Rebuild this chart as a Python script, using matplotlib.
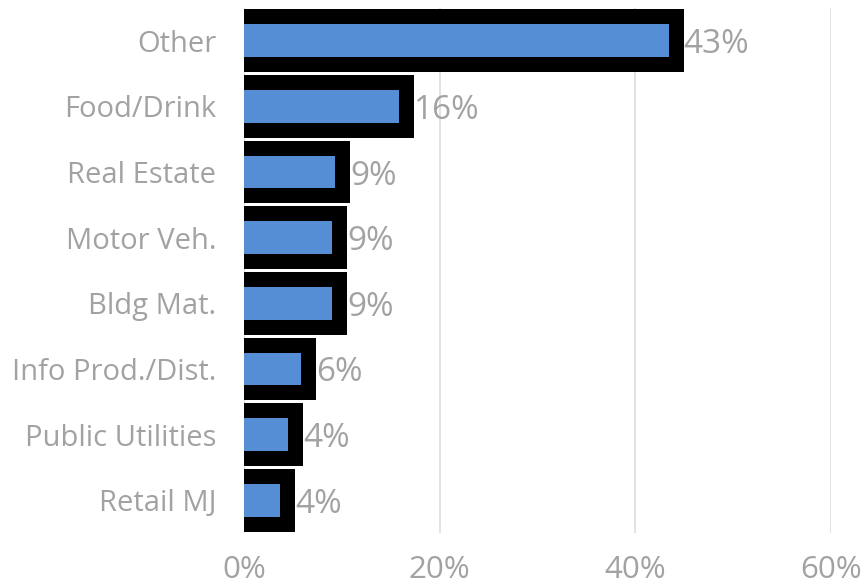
import matplotlib

matplotlib.use("Agg")
import matplotlib.pyplot as plt

# category shares, top to bottom as in the reference
categories = ["Other", "Food/Drink", "Real Estate", "Motor Veh.", "Bldg Mat.",
              "Info Prod./Dist.", "Public Utilities", "Retail MJ"]
shares = [43.4, 15.8, 9.3, 9.0, 9.0, 5.8, 4.5, 3.7]
value_labels = ["43%", "16%", "9%", "9%", "9%", "6%", "4%", "4%"]
xticks = [0, 20, 40, 60]
xtick_labels = ["0%", "20%", "40%", "60%"]

BLUE = "#558ED5"
GRAY = "#A2A2A2"
DPI = 100
EDGE_PX = 30

plt.rcParams["font.family"] = ["Open Sans", "DejaVu Sans"]

fig = plt.figure(figsize=(8.64, 5.84), dpi=DPI)
ax = fig.add_axes([244 / 864, 1 - 533 / 584, (831 - 244) / 864, 525 / 584])

y = list(range(len(categories)))
edge_pt = EDGE_PX * 72 / DPI

# black frame: same bar with a heavy edge, drawn underneath
ax.barh(y, shares, height=0.5, color="black", edgecolor="black",
        linewidth=edge_pt, joinstyle="miter", zorder=2)
ax.barh(y, shares, height=0.5, color=BLUE, linewidth=0, zorder=3)

for yi, v, lab in zip(y, shares, value_labels):
    ax.annotate(lab, (v, yi), xytext=(EDGE_PX / 2 * 72 / DPI, 0),
                textcoords="offset points", va="center_baseline", ha="left",
                fontsize=24, color=GRAY, zorder=4)

ax.set_xlim(0, 60)
ax.set_ylim(len(categories) - 0.5, -0.5)
ax.set_xticks(xticks)
ax.set_xticklabels(xtick_labels, fontsize=22.5)
ax.set_yticks(y)
ax.set_yticklabels(categories, fontsize=21)
ax.tick_params(axis="both", length=0, colors=GRAY)
ax.tick_params(axis="y", pad=20)
ax.tick_params(axis="x", pad=16)
ax.grid(axis="x", color="#DDDDDD", linewidth=1.2, zorder=0)
ax.set_axisbelow(True)
for s in ax.spines.values():
    s.set_visible(False)

fig.savefig("out.png", dpi=DPI)
